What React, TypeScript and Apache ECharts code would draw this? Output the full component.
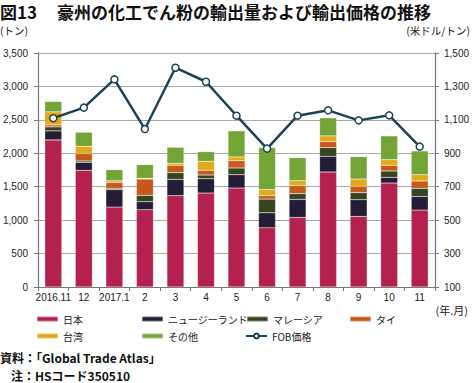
import React, { useEffect, useRef } from "react";
import * as echarts from "echarts";

const categories = ["2016.11", "12", "2017.1", "2", "3", "4", "5", "6", "7", "8", "9", "10", "11"];
const japan = [2200, 1745, 1195, 1155, 1365, 1405, 1480, 885, 1040, 1720, 1055, 1555, 1150];
const newZealand = [135, 120, 260, 120, 245, 215, 200, 225, 270, 235, 250, 85, 205];
const malaysia = [60, 20, 20, 95, 100, 55, 100, 205, 85, 130, 105, 95, 120];
const thailand = [30, 110, 90, 245, 110, 70, 110, 50, 120, 90, 95, 85, 110];
const taiwan = [195, 110, 25, 10, 30, 135, 55, 95, 75, 85, 110, 85, 95];
const others = [155, 210, 165, 205, 240, 145, 390, 625, 345, 270, 335, 355, 355];
const fobPrice = [1110, 1173, 1342, 1045, 1412, 1328, 1125, 928, 1125, 1157, 1097, 1127, 940];

const leftTicks = { min: 0, max: 3500, interval: 500 };
const rightTicks = { min: 100, max: 1500, interval: 200 };

const FONT = "'Liberation Sans', 'Noto Sans CJK JP', sans-serif";
const JFONT = "'Noto Sans CJK JP', 'Liberation Sans', sans-serif";

const barSeries = [
  { name: "日本", data: japan, color: "#b5214f" },
  { name: "ニュージーランド", data: newZealand, color: "#261c38" },
  { name: "マレーシア", data: malaysia, color: "#344520" },
  { name: "タイ", data: thailand, color: "#c55a1c" },
  { name: "台湾", data: taiwan, color: "#e4a918" },
  { name: "その他", data: others, color: "#72a536" },
];

const legendPos: { name: string; left: number; top: number }[] = [
  { name: "日本", left: 36, top: 314 },
  { name: "ニュージーランド", left: 141, top: 314 },
  { name: "マレーシア", left: 246, top: 314 },
  { name: "タイ", left: 349, top: 314 },
  { name: "台湾", left: 36, top: 331 },
  { name: "その他", left: 141, top: 331 },
  { name: "FOB価格", left: 245, top: 331 },
];

export default function App() {
  const ref = useRef<HTMLDivElement>(null);
  useEffect(() => {
    if (!ref.current) return;
    const chart = echarts.init(ref.current, null, { renderer: "svg" });
    const lineColor = "#1b4356";
    chart.setOption({
      animation: false,
      backgroundColor: "#ffffff",
      grid: { left: 37, right: 34, top: 53, bottom: 96, containLabel: false },
      legend: legendPos.map((l) => ({
        data: [l.name],
        left: l.left,
        top: l.top,
        padding: 0,
        itemWidth: 21,
        itemHeight: l.name === "FOB価格" ? 6 : 5,
        textStyle: { fontSize: 10, color: "#222", fontFamily: JFONT },
        selectedMode: false,
      })),
      xAxis: {
        type: "category",
        data: categories,
        axisLine: { lineStyle: { color: "#777", width: 1.2 } },
        axisTick: { show: true, length: 4, lineStyle: { color: "#777" } },
        axisLabel: { fontSize: 10, color: "#222", margin: 5, fontFamily: FONT, interval: 0 },
      },
      yAxis: [
        {
          type: "value",
          ...leftTicks,
          axisLine: { show: true, lineStyle: { color: "#777", width: 1.2 } },
          axisTick: { show: true, length: 4, lineStyle: { color: "#777" } },
          axisLabel: {
            fontSize: 10,
            color: "#222",
            margin: 10,
            fontFamily: FONT,
            formatter: (v: number) => v.toLocaleString("en-US"),
          },
          splitLine: { show: true, lineStyle: { color: "#a8a8a8", width: 1 } },
        },
        {
          type: "value",
          ...rightTicks,
          position: "right",
          axisLine: { show: true, lineStyle: { color: "#777", width: 1.2 } },
          axisTick: { show: true, length: 4, lineStyle: { color: "#777" } },
          axisLabel: {
            fontSize: 10,
            color: "#222",
            margin: 9,
            fontFamily: FONT,
            formatter: (v: number) => v.toLocaleString("en-US"),
          },
          splitLine: { show: false },
        },
      ],
      series: [
        ...barSeries.map((s) => ({
          name: s.name,
          type: "bar",
          stack: "total",
          data: s.data,
          barWidth: 17,
          itemStyle: { color: s.color, borderColor: "rgba(255,255,255,0.35)", borderWidth: 0.5 },
        })),
        {
          name: "FOB価格",
          type: "line",
          yAxisIndex: 1,
          data: fobPrice,
          symbol: "circle",
          symbolSize: 7,
          lineStyle: { color: lineColor, width: 2.5 },
          itemStyle: { color: "#ffffff", borderColor: lineColor, borderWidth: 1.5 },
          z: 5,
        },
      ],
      graphic: [
        {
          type: "text",
          left: 0,
          top: 3,
          style: { text: "図13", font: `bold 17px ${JFONT}`, fill: "#111" },
        },
        {
          type: "text",
          left: 57,
          top: 3,
          style: { text: "豪州の化工でん粉の輸出量および輸出価格の推移", font: `bold 17px ${JFONT}`, fill: "#111" },
        },
        {
          type: "text",
          left: 0,
          top: 25,
          style: { text: "(トン)", font: `10.5px ${JFONT}`, fill: "#222" },
        },
        {
          type: "text",
          right: 2,
          top: 25,
          style: { text: "(米ドル/トン)", font: `10.5px ${JFONT}`, fill: "#222" },
        },
        {
          type: "text",
          right: 4,
          top: 304,
          style: { text: "(年.月)", font: `11px ${JFONT}`, fill: "#222" },
        },
        {
          type: "text",
          left: 0,
          top: 351,
          style: { text: "資料：「Global Trade Atlas」", font: `bold 12px ${JFONT}`, fill: "#111" },
        },
        {
          type: "text",
          left: 11,
          top: 369,
          style: { text: "注：HSコード350510", font: `bold 12px ${JFONT}`, fill: "#111" },
        },
      ],
    });
    return () => chart.dispose();
  }, []);
  return <div ref={ref} style={{ position: "absolute", left: 0, top: 0, width: 472, height: 383 }} />;
}
